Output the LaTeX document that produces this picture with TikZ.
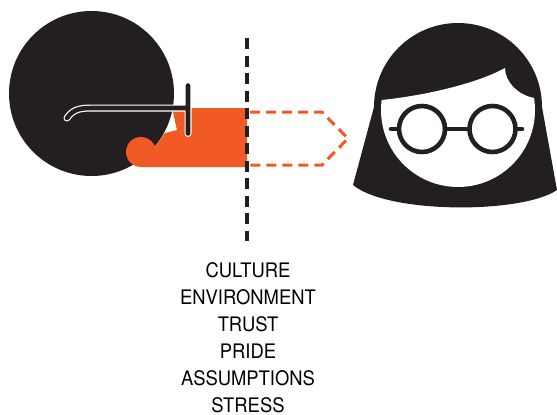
\documentclass[tikz,border=0pt]{standalone}
\usepackage{fontspec}
\setmainfont{TeX Gyre Heros}[FakeStretch=0.92]
\definecolor{ink}{RGB}{35,31,32}
\definecolor{flame}{RGB}{241,90,36}

\begin{document}
\begin{tikzpicture}[x=1pt, y=-1pt,
   head/.style={fill=ink},
   splash/.style={fill=flame},
   micedge/.style={draw=white, line width=7pt, line cap=round},
   micbar/.style={draw=ink, line width=4.6pt, line cap=round},
   divider/.style={draw=ink, line width=4.5pt, dash pattern=on 11pt off 6.5pt},
   outline/.style={draw=flame, line width=3pt, dash pattern=on 10pt off 6pt},
   specs/.style={draw=ink, line width=4.6pt},
   factor/.style={font=\fontsize{20}{27}\selectfont, anchor=base, inner sep=0pt}]
  \useasboundingbox (0,0) rectangle (557,415);

  % speaker: head, mouth and microphone
  \fill[head] (91.5,93.5) circle[radius=82.5];
  \fill[splash] (172,108) -- (247,108) -- (247,167) -- (141,167) -- (155,147)
     -- (165,133) -- (177,130) -- cycle;
  \fill[splash] (141,152) circle[radius=15];
  \draw[micedge] (67,118) .. controls (74,108) and (82,108) .. (96,108) -- (187,108)
     (188,85.5) -- (188,133.5);
  \draw[micbar] (67,118) .. controls (74,108) and (82,108) .. (96,108) -- (187,108)
     (188,85.5) -- (188,133.5);

  % barrier and the message that does not get through
  \draw[divider] (247,38) -- (247,241);
  \draw[outline] (250,112) -- (322,112) -- (348,138.5) -- (322,165) -- (250,165);

  % listener: hair, face, glasses
  \fill[head] (353,185) -- (374,107) arc[start angle=180, end angle=360, radius=84]
     -- (557,190) .. controls (522,214) and (388,214) .. cycle;
  \fill[white] (381.7,100) .. controls (430,95) and (480,82) .. (505,68)
     .. controls (505,82) and (518,95) .. (534.05,97.95)
     arc[start angle=-9, end angle=187.5, radius=77] -- cycle;
  \draw[specs] (422,129) circle[radius=23] (492.5,129) circle[radius=23];
  \draw[specs, line cap=round] (391,129) -- (397,129) (445,129) -- (469.5,129)
     (517.5,129) -- (522,129);

  % filters in between
  \foreach \word [count=\i] in {CULTURE,ENVIRONMENT,TRUST,PRIDE,ASSUMPTIONS,STRESS}
    \node[factor] (f\i) at (248,250+27*\i) {\word};
\end{tikzpicture}
\end{document}
